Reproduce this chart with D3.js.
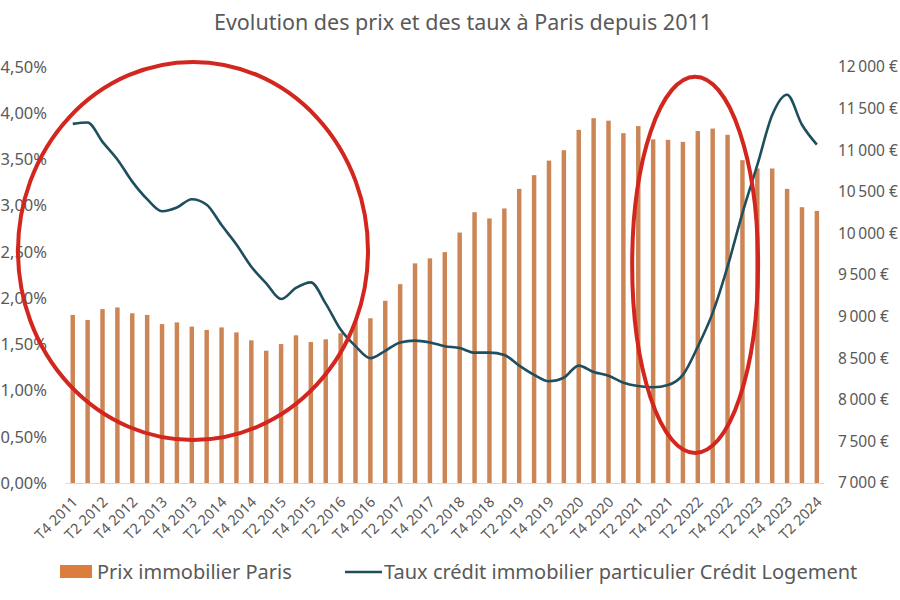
<!DOCTYPE html>
<html><head><meta charset="utf-8">
<script src="https://cdn.jsdelivr.net/npm/d3@7"></script>
<style>body{margin:0;background:#fff}svg{display:block;font-family:"Noto Sans",sans-serif}</style>
</head><body><svg id="c" width="900" height="600"></svg>
<script>
const categories = ["T4 2011","T1 2012","T2 2012","T3 2012","T4 2012","T1 2013","T2 2013","T3 2013","T4 2013","T1 2014","T2 2014","T3 2014","T4 2014","T1 2015","T2 2015","T3 2015","T4 2015","T1 2016","T2 2016","T3 2016","T4 2016","T1 2017","T2 2017","T3 2017","T4 2017","T1 2018","T2 2018","T3 2018","T4 2018","T1 2019","T2 2019","T3 2019","T4 2019","T1 2020","T2 2020","T3 2020","T4 2020","T1 2021","T2 2021","T3 2021","T4 2021","T1 2022","T2 2022","T3 2022","T4 2022","T1 2023","T2 2023","T3 2023","T4 2023","T1 2024","T2 2024"];
const prixParis = [9020,8960,9090,9110,9040,9020,8910,8930,8880,8840,8870,8810,8715,8590,8670,8775,8695,8727,8800,8940,8980,9190,9390,9640,9700,9775,10010,10255,10180,10300,10535,10700,10875,11000,11245,11385,11355,11205,11290,11130,11125,11100,11230,11260,11185,10880,10780,10780,10535,10315,10270];
const tauxCredit = [3.885,3.90,3.69,3.50,3.26,3.07,2.94,2.98,3.07,3.01,2.79,2.58,2.34,2.16,1.99,2.11,2.17,1.94,1.66,1.48,1.35,1.43,1.52,1.54,1.52,1.48,1.46,1.41,1.41,1.385,1.27,1.17,1.10,1.14,1.27,1.20,1.16,1.085,1.05,1.035,1.06,1.17,1.475,1.84,2.34,2.92,3.44,3.98,4.20,3.875,3.66];
const leftTicks = [0,0.5,1,1.5,2,2.5,3,3.5,4,4.5];
const rightTicks = [7000,7500,8000,8500,9000,9500,10000,10500,11000,11500,12000];
const labelCategories = categories.filter((d,i)=>i%2===0);
const title = "Evolution des prix et des taux à Paris depuis 2011";
const seriesNames = ["Prix immobilier Paris","Taux crédit immobilier particulier Crédit Logement"];
// annotation ellipses in data units: centre index, centre %, radius in steps, radius in %
const annotations = [{ci:8.08, cy:2.51, rxs:11.76, ry:2.045},{ci:41.82, cy:2.36, rxs:4.23, ry:2.035}];

const svg = d3.select("#c");
const L = 65.3, R = 824.3, T = 67, B = 483;
const x = d3.scaleBand().domain(categories).range([L,R]).paddingInner(0.7).paddingOuter(0.35);
const yL = d3.scaleLinear().domain([0,4.5]).range([B,T]);
const yR = d3.scaleLinear().domain([7000,12000]).range([B,T]);
const xc = c => x(c) + x.bandwidth()/2;
const grey = "#595959", barColor = "#cc8656", lineColor = "#1f4e5f";

svg.append("text").attr("x",463).attr("y",30).attr("text-anchor","middle")
  .attr("font-size",21.5).attr("fill",grey).text(title);

svg.append("line").attr("x1",L).attr("x2",R).attr("y1",B+0.5).attr("y2",B+0.5).attr("stroke","#d9d9d9");

svg.append("g").selectAll("rect").data(prixParis).join("rect")
  .attr("x",(d,i)=>x(categories[i])).attr("width",x.bandwidth())
  .attr("y",d=>yR(d)).attr("height",d=>yR(7000)-yR(d)).attr("fill",barColor);

const line = d3.line().x((d,i)=>xc(categories[i])).y(d=>yL(d)).curve(d3.curveMonotoneX);
svg.append("path").datum(tauxCredit).attr("d",line).attr("fill","none")
  .attr("stroke",lineColor).attr("stroke-width",2.6).attr("stroke-linejoin","round");

const fmtPct = v => v.toFixed(2).replace(".",",") + "%";
const fmtEur = v => d3.format(",")(v).replace(/,/g,"\u202f") + " €";
const axL = d3.axisLeft(yL).tickValues(leftTicks).tickFormat(fmtPct).tickSize(0).tickPadding(0);
const gL = svg.append("g").attr("transform","translate(47,0)").call(axL);
const axR = d3.axisRight(yR).tickValues(rightTicks).tickFormat(fmtEur).tickSize(0).tickPadding(0);
const gR = svg.append("g").attr("transform","translate(838,0)").call(axR);
gL.selectAll("text").attr("font-size",16.5);
gR.selectAll("text").attr("font-size",15.5);
[gL,gR].forEach(g=>{g.select(".domain").remove();
  g.selectAll("text").attr("fill",grey).attr("font-family","'Noto Sans',sans-serif");});

const ax = d3.axisBottom(x).tickValues(labelCategories).tickSize(0).tickPadding(0);
const gX = svg.append("g").attr("transform",`translate(0,${B})`).call(ax);
gX.select(".domain").remove();
gX.selectAll("text").attr("font-size",14.5).attr("fill",grey).attr("font-family","'Noto Sans',sans-serif")
  .attr("text-anchor","end").attr("dy",null).attr("y",null)
  .attr("transform","translate(6,20) rotate(-45)");

svg.append("g").selectAll("ellipse").data(annotations).join("ellipse")
  .attr("cx",d=>x(categories[0]) + x.bandwidth()/2 + d.ci*x.step())
  .attr("cy",d=>yL(d.cy)).attr("rx",d=>d.rxs*x.step()).attr("ry",d=>yL(0)-yL(d.ry))
  .attr("fill","none").attr("stroke","#d2261e").attr("stroke-width",4);

const lg = svg.append("g");
lg.append("rect").attr("x",60).attr("y",565).attr("width",32).attr("height",13).attr("fill","#dc7d3f");
lg.append("text").attr("x",97).attr("y",579).attr("font-size",20).attr("fill",grey).text(seriesNames[0]);
lg.append("line").attr("x1",345).attr("x2",382).attr("y1",572).attr("y2",572).attr("stroke",lineColor).attr("stroke-width",2.6);
lg.append("text").attr("x",384).attr("y",579).attr("font-size",20).attr("fill",grey).text(seriesNames[1]);
</script></body></html>
